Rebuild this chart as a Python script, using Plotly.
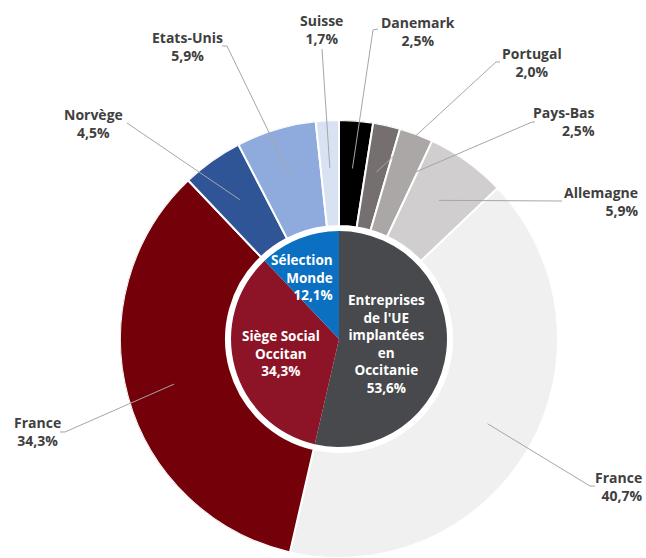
import math
import plotly.graph_objects as go

# ---------------- data ----------------
inner_names = ["Entreprises de l'UE implantées en Occitanie", "Siège Social Occitan", "Sélection Monde"]
inner_display = ["Entreprises<br>de l'UE<br>implantées<br>en<br>Occitanie", "Siège Social<br>Occitan", "Sélection<br>Monde"]
inner_values = [53.6, 34.3, 12.1]

outer_names = ["Danemark", "Portugal", "Pays-Bas", "Allemagne", "France", "France", "Norvège", "Etats-Unis", "Suisse"]
outer_values = [2.5, 2.0, 2.5, 5.9, 40.7, 34.3, 4.5, 5.9, 1.7]

# ---------------- styles ----------------
inner_colors = ["#47494c", "#8d1427", "#0b70c1"]
outer_colors = ["#000000", "#756f6f", "#aba7a7", "#d0cece", "#f0f0f0", "#74000a", "#2f5597", "#8faadc", "#d9e2f3"]

W, H = 646, 558
CX, CY = 339, 339          # pixel centre of the chart
R = 219                    # polar radius in px (radial units == px)
R_INNER = 108
R_HOLE = 113
R_OUTER = 219
R_LEADER = 171

# label positions (pixels) : (x, y, xanchor)
outer_label_pos = [
    (418, 31, "center"),   # Danemark
    (532, 62, "center"),   # Portugal
    (597, 122, "right"),   # Pays-Bas
    (640, 201, "right"),   # Allemagne
    (645, 486, "right"),   # France 40,7
    (37, 431, "center"),   # France 34,3
    (93, 123, "center"),   # Norvège
    (187, 46, "center"),   # Etats-Unis
    (321, 30, "center"),   # Suisse
]
# leader line outer points (pixels)
leader_pts = [
    [(378, 29), (373, 30)],
    [(500, 62), (496, 62)],
    [(535, 122), (532, 122)],
    [(562, 201)],
    [(595, 486), (590, 486)],
    [(60, 432), (65, 432)],
    [(127, 123)],
    [(222, 46), (227, 46)],
    [(322, 49)],
]
inner_label_pos = [
    (386, 344, "center"),
    (281, 353, "center"),
    (335, 277, "right"),
]


def fmt(v):
    return f"{v:.1f}".replace(".", ",") + "%"


def spans(values):
    mids, widths = [], []
    acc = 0.0
    for v in values:
        widths.append(v * 3.6)
        mids.append((acc + v / 2) * 3.6)
        acc += v
    return mids, widths


inner_mid, inner_w = spans(inner_values)
outer_mid, outer_w = spans(outer_values)

fig = go.Figure()

fig.add_trace(go.Barpolar(
    theta=inner_mid, width=inner_w, r=[R_INNER] * len(inner_values), base=0,
    marker=dict(color=inner_colors, line=dict(width=0)),
    hoverinfo="skip",
))
fig.add_trace(go.Barpolar(
    theta=outer_mid, width=outer_w, r=[R_OUTER - R_HOLE] * len(outer_values), base=R_HOLE,
    marker=dict(color=outer_colors, line=dict(color="white", width=2)),
    hoverinfo="skip",
))

# leader lines (paper coordinates); inner end sits at the slice mid-angle
shapes = []
for mid, pts in zip(outer_mid, leader_pts):
    a = math.radians(mid)
    ix = CX + R_LEADER * math.sin(a)
    iy = CY - R_LEADER * math.cos(a)
    all_pts = list(pts) + [(ix, iy)]
    path = " ".join(("M" if k == 0 else "L") + f" {px / W:.5f} {1 - py / H:.5f}"
                    for k, (px, py) in enumerate(all_pts))
    shapes.append(dict(type="path", xref="paper", yref="paper", path=path,
                       line=dict(color="#a6a6a6", width=1), layer="above"))

annotations = []
FONT = "Open Sans"
for name, v, (x, y, anc) in zip(outer_names, outer_values, outer_label_pos):
    annotations.append(dict(
        x=x / W, y=1 - y / H, xref="paper", yref="paper",
        xanchor=anc, yanchor="middle", align=anc,
        text=f"<b>{name}</b><br><b>{fmt(v)}</b>", showarrow=False,
        font=dict(family=FONT, size=14, color="#3f3f3f"),
    ))
for disp, v, (x, y, anc) in zip(inner_display, inner_values, inner_label_pos):
    annotations.append(dict(
        x=x / W, y=1 - y / H, xref="paper", yref="paper",
        xanchor=anc, yanchor="middle", align=anc,
        text="<b>" + disp + "<br>" + fmt(v) + "</b>", showarrow=False,
        font=dict(family=FONT, size=13.5, color="white"),
    ))

fig.update_layout(
    width=W, height=H,
    margin=dict(l=0, r=0, t=0, b=0),
    paper_bgcolor="white", plot_bgcolor="white",
    showlegend=False,
    polar=dict(
        domain=dict(x=[(CX - R) / W, (CX + R) / W], y=[(H - CY - R) / H, (H - CY + R) / H]),
        bgcolor="rgba(0,0,0,0)",
        hole=0,
        radialaxis=dict(visible=False, range=[0, R], showgrid=False),
        angularaxis=dict(visible=False, direction="clockwise", rotation=90, showgrid=False),
        bargap=0,
    ),
    shapes=shapes,
    annotations=annotations,
)

fig.write_html("out.html")
